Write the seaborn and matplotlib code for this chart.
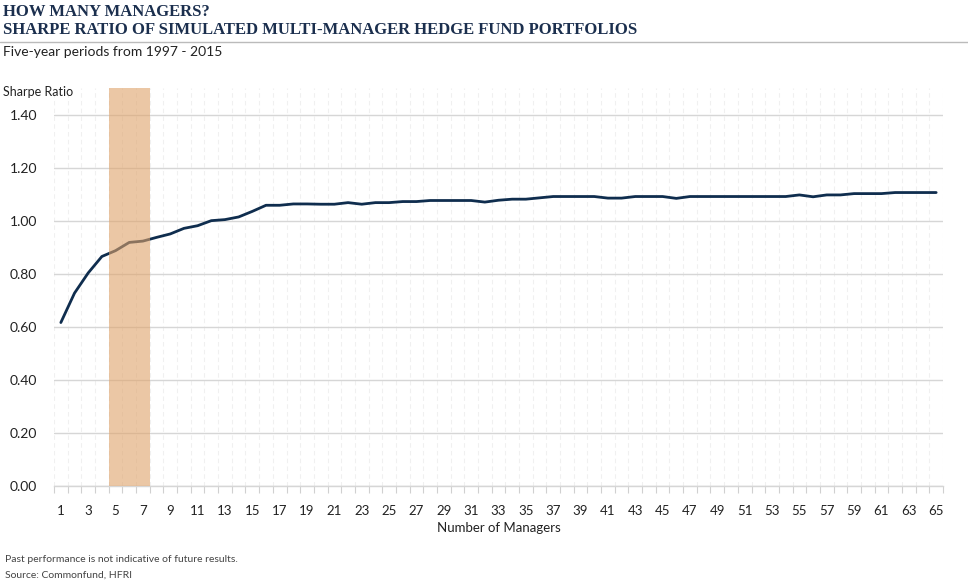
import matplotlib
matplotlib.use("Agg")
import matplotlib.pyplot as plt
import seaborn as sns
import numpy as np
import pandas as pd
from matplotlib.ticker import FixedLocator

managers = list(range(1, 66))
sharpe = [0.616, 0.727, 0.803, 0.865, 0.887, 0.918, 0.923, 0.937, 0.950, 0.971,
          0.981, 1.000, 1.004, 1.014, 1.035, 1.058, 1.058, 1.063, 1.063, 1.062,
          1.062, 1.068, 1.062, 1.068, 1.068, 1.072, 1.072, 1.076, 1.076, 1.076,
          1.076, 1.070, 1.077, 1.081, 1.081, 1.086, 1.091, 1.091, 1.091, 1.091,
          1.085, 1.085, 1.091, 1.091, 1.091, 1.084, 1.091, 1.091, 1.091, 1.091,
          1.091, 1.091, 1.091, 1.091, 1.097, 1.090, 1.097, 1.097, 1.102, 1.102,
          1.102, 1.106, 1.106, 1.106, 1.106]
yticks = [0.0, 0.2, 0.4, 0.6, 0.8, 1.0, 1.2, 1.4]
xtick_labels = list(range(1, 66, 2))
highlight = (5, 7)

title1 = "HOW MANY MANAGERS?"
title2 = "SHARPE RATIO OF SIMULATED MULTI-MANAGER HEDGE FUND PORTFOLIOS"
subtitle = "Five-year periods from 1997 - 2015"
ylabel = "Sharpe Ratio"
xlabel = "Number of Managers"
note1 = "Past performance is not indicative of future results."
note2 = "Source: Commonfund, HFRI"

sns.set_theme(style="white")
plt.rcParams['font.family'] = ['Lato', 'DejaVu Sans']

df = pd.DataFrame({"Managers": managers, "Sharpe": sharpe})

fig = plt.figure(figsize=(9.68, 5.82), dpi=100)
ax = fig.add_axes([54/968, 1-486/582, (943-54)/968, (486-88)/582])

navy = "#0F2D4E"
sns.lineplot(data=df, x="Managers", y="Sharpe", ax=ax, color=navy, linewidth=2.0, zorder=3)
ax.axvspan(highlight[0]-0.5, highlight[1]+0.5, color="#DFA36A", alpha=0.6, lw=0, zorder=4)

ax.set_xlim(0.5, 65.5)
ax.set_ylim(0, 1.5)
ax.set_yticks(yticks)
ax.set_yticklabels([f"{v:.2f}" for v in yticks], fontsize=10, color="#222222")
ax.set_xticks(xtick_labels)
ax.set_xticklabels([str(v) for v in xtick_labels], fontsize=9.5, color="#222222")
ax.xaxis.set_minor_locator(FixedLocator(np.arange(0.5, 66, 1)))
ax.tick_params(axis='x', which='major', length=0, pad=14)
ax.tick_params(axis='x', which='minor', length=5, color="#D0D0D0", width=0.8, direction='out', bottom=True)
ax.tick_params(axis='y', length=0, pad=12)

ax.grid(False)
ax.yaxis.grid(True, color="#D6D6D6", linewidth=1.0, zorder=1)
ax.xaxis.grid(True, which='minor', color="#F0F0F0", linestyle=(0, (4, 3)), linewidth=0.8, zorder=1)
ax.set_axisbelow(True)
for s in ["top", "right", "left"]:
    ax.spines[s].set_visible(False)
ax.spines["bottom"].set_color("#D6D6D6")
ax.spines["bottom"].set_linewidth(1.0)

ax.set_xlabel(xlabel, fontsize=9.5, color="#222222", labelpad=3)
ax.set_ylabel("")

fig.text(3/968, 1-92/582, ylabel, fontsize=9, color="#222222", va="center", ha="left")

fig.text(3/968, 1-12/582, title1, fontsize=12, fontweight="bold", color="#1B2F4E",
         family=["Liberation Serif"], va="center", ha="left")
fig.text(3/968, 1-30/582, title2, fontsize=12, fontweight="bold", color="#1B2F4E",
         family=["Liberation Serif"], va="center", ha="left")
fig.add_artist(plt.Line2D([0, 1], [1-42/582, 1-42/582], color="#BBBBBB", linewidth=1.0,
                          transform=fig.transFigure))
fig.text(3/968, 1-52/582, subtitle, fontsize=10, color="#222222", va="center", ha="left")

fig.text(5/968, 1-560/582, note1, fontsize=7.5, color="#444444", va="center", ha="left")
fig.text(5/968, 1-575/582, note2, fontsize=7.5, color="#444444", va="center", ha="left")

fig.savefig("out.png", dpi=100)
